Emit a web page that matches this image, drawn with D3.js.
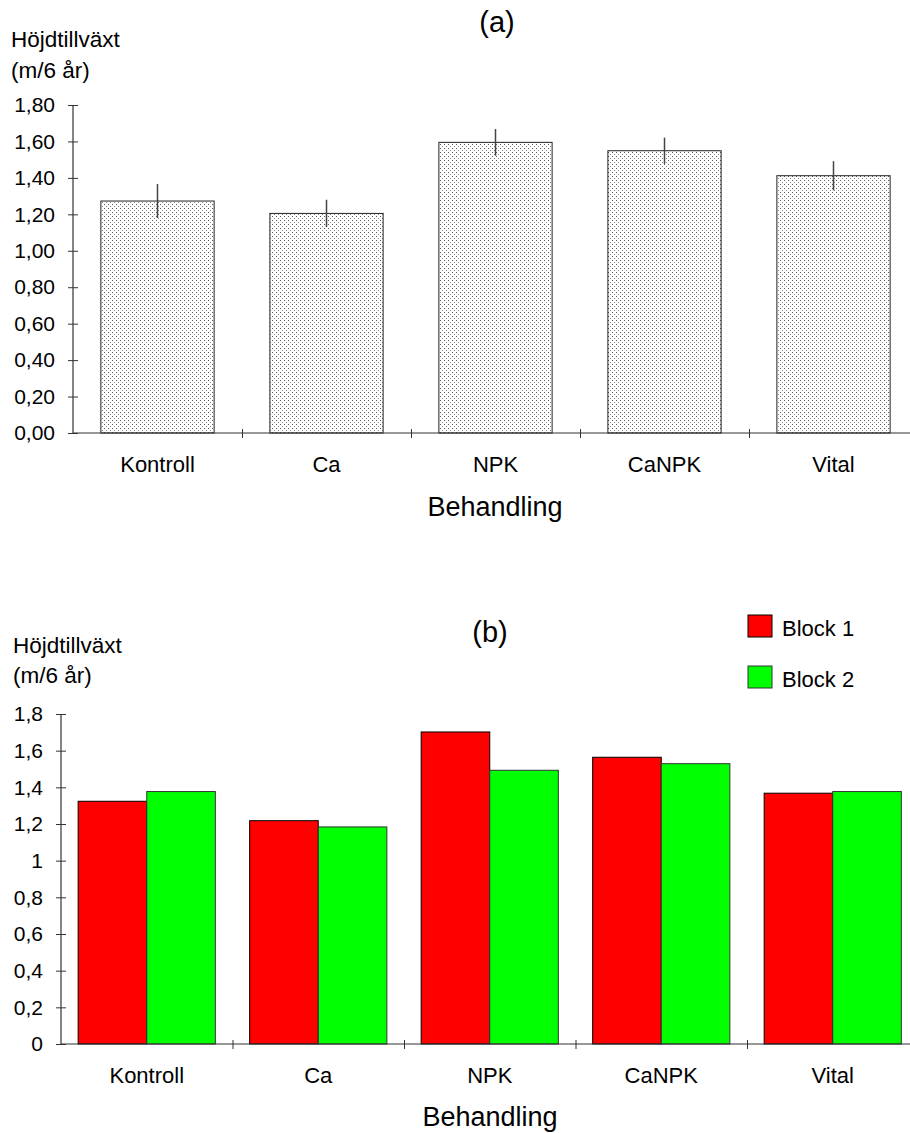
<!DOCTYPE html>
<html><head><meta charset="utf-8">
<script src="https://cdn.jsdelivr.net/npm/d3@7"></script>
<style>
body{margin:0;background:#fff;}
svg{display:block;font-family:"Liberation Sans",Arial,sans-serif;}
</style></head><body>
<svg id="c" width="910" height="1133"></svg>
<script>
const categories = ["Kontroll","Ca","NPK","CaNPK","Vital"];
const meanValues = [1.273,1.205,1.595,1.549,1.412];
const errValues = [0.093,0.075,0.073,0.072,0.080];
const blocks = ["Block 1","Block 2"];
const block1Values = [1.324,1.218,1.702,1.564,1.368];
const block2Values = [1.377,1.184,1.493,1.529,1.377];
const blockColors = ["#ff0000","#00ff00"];
const blockStrokes = ["#000","#333"];
const yTicksA = [0,0.2,0.4,0.6,0.8,1.0,1.2,1.4,1.6,1.8];
const yTicksB = [0,0.2,0.4,0.6,0.8,1.0,1.2,1.4,1.6,1.8];

const svg = d3.select("#c");
const loc = d3.formatLocale({decimal:",",thousands:" ",grouping:[3],currency:["","kr"]});
const fmtA = loc.format(".2f");
const fmtB = loc.format("~g");
const axisCol = "#333";

// pattern
const defs = svg.append("defs");
const pat = defs.append("pattern").attr("id","dots").attr("patternUnits","userSpaceOnUse")
  .attr("width",4).attr("height",4);
pat.append("rect").attr("width",4).attr("height",4).attr("fill","#fff");
pat.append("rect").attr("x",0).attr("y",0).attr("width",1).attr("height",1).attr("fill","#555");
pat.append("rect").attr("x",2).attr("y",2).attr("width",1).attr("height",1).attr("fill","#888");

function drawAxes(g, y, ticks, fmt, xL, xR, y0, nCat){
  const ya = g.append("g").attr("transform",`translate(${xL},0)`)
    .call(d3.axisLeft(y).tickValues(ticks).tickFormat(fmt).tickSize(5).tickPadding(13));
  ya.select(".domain").remove();
  ya.selectAll(".tick line").attr("x2",5).attr("x1",-5).attr("stroke",axisCol);
  ya.selectAll(".tick text").attr("font-size",21).attr("fill","#000").attr("font-family","Liberation Sans, Arial, sans-serif");
  g.append("line").attr("x1",xL).attr("x2",xL).attr("y1",y(ticks[ticks.length-1])).attr("y2",y0).attr("stroke",axisCol).attr("stroke-width",1.2);
  const xi = d3.scaleLinear().domain([0,nCat]).range([xL,xR]);
  const xa = g.append("g").attr("transform",`translate(0,${y0})`)
    .call(d3.axisBottom(xi).tickValues(d3.range(1,nCat)).tickFormat("").tickSize(4));
  xa.select(".domain").remove();
  xa.selectAll(".tick line").attr("y1",-4).attr("y2",5).attr("stroke",axisCol);
  g.append("line").attr("x1",xL).attr("x2",xR).attr("y1",y0).attr("y2",y0).attr("stroke",axisCol).attr("stroke-width",1.2);
}

// ---------- Chart (a) ----------
const gA = svg.append("g");
const xA = d3.scaleBand().domain(categories).range([73,918]).paddingInner(0.33).paddingOuter(0.165);
const yA = d3.scaleLinear().domain([0,1.8]).range([433,105]);
gA.selectAll("rect.bar").data(categories).join("rect").attr("class","bar")
  .attr("x",d=>xA(d)).attr("width",xA.bandwidth())
  .attr("y",(d,i)=>yA(meanValues[i])).attr("height",(d,i)=>yA(0)-yA(meanValues[i]))
  .attr("fill","url(#dots)").attr("stroke","#222").attr("stroke-width",1);
gA.selectAll("line.err").data(categories).join("line").attr("class","err")
  .attr("x1",d=>xA(d)+xA.bandwidth()/2).attr("x2",d=>xA(d)+xA.bandwidth()/2)
  .attr("y1",(d,i)=>yA(meanValues[i]+errValues[i])).attr("y2",(d,i)=>yA(meanValues[i]-errValues[i]))
  .attr("stroke","#444").attr("stroke-width",1.5);
drawAxes(gA,yA,yTicksA,fmtA,73,918,433,categories.length);
gA.selectAll("text.cat").data(categories).join("text").attr("class","cat")
  .attr("x",d=>xA(d)+xA.bandwidth()/2).attr("y",472).attr("text-anchor","middle")
  .attr("font-size",22).text(d=>d);
gA.append("text").attr("x",497).attr("y",32).attr("text-anchor","middle").attr("font-size",29).text("(a)");
gA.append("text").attr("x",11).attr("y",47).attr("font-size",22.5).text("Höjdtillväxt");
gA.append("text").attr("x",11).attr("y",78).attr("font-size",22.5).text("(m/6 år)");
gA.append("text").attr("x",495).attr("y",516).attr("text-anchor","middle").attr("font-size",27).text("Behandling");

// ---------- Chart (b) ----------
const gB = svg.append("g");
const x0 = d3.scaleBand().domain(categories).range([61,918.5]).paddingInner(0.2).paddingOuter(0.1);
const x1 = d3.scaleBand().domain(blocks).range([0,x0.bandwidth()]);
const yB = d3.scaleLinear().domain([0,1.8]).range([1044,714]);
const series = [block1Values, block2Values];
blocks.forEach((b,bi)=>{
  gB.selectAll("rect.b"+bi).data(categories).join("rect").attr("class","b"+bi)
    .attr("x",d=>x0(d)+x1(b)).attr("width",x1.bandwidth())
    .attr("y",(d,i)=>yB(series[bi][i])).attr("height",(d,i)=>yB(0)-yB(series[bi][i]))
    .attr("fill",blockColors[bi]).attr("stroke",blockStrokes[bi]).attr("stroke-width",1);
});
drawAxes(gB,yB,yTicksB,fmtB,61,918.5,1044,categories.length);
gB.selectAll("text.cat").data(categories).join("text").attr("class","cat")
  .attr("x",d=>x0(d)+x0.bandwidth()/2).attr("y",1083).attr("text-anchor","middle")
  .attr("font-size",22).text(d=>d);
gB.append("text").attr("x",490).attr("y",642).attr("text-anchor","middle").attr("font-size",29).text("(b)");
gB.append("text").attr("x",13).attr("y",653).attr("font-size",22.5).text("Höjdtillväxt");
gB.append("text").attr("x",13).attr("y",683).attr("font-size",22.5).text("(m/6 år)");
gB.append("text").attr("x",490).attr("y",1126).attr("text-anchor","middle").attr("font-size",27).text("Behandling");
const leg = gB.selectAll("g.leg").data(blocks).join("g").attr("class","leg")
  .attr("transform",(d,i)=>`translate(748,${615+i*51})`);
leg.append("rect").attr("width",24).attr("height",22).attr("fill",(d,i)=>blockColors[i]).attr("stroke",(d,i)=>blockStrokes[i]);
leg.append("text").attr("x",34).attr("y",21).attr("font-size",22).text(d=>d);
</script></body></html>
